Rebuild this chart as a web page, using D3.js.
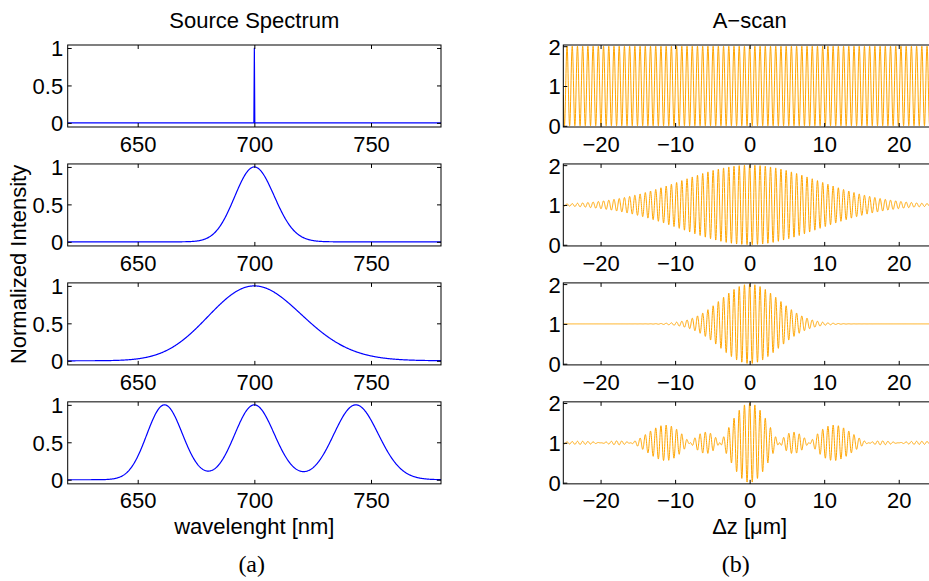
<!DOCTYPE html>
<html>
<head>
<meta charset="utf-8">
<script src="https://cdn.jsdelivr.net/npm/d3@7"></script>
<style>
  body { margin: 0; background: #fff; }
  svg text { font-family: "Liberation Sans", Arial, sans-serif; fill: #000; }
  svg text.cap { font-family: "Liberation Serif", "DejaVu Serif", serif; }
</style>
</head>
<body>
<svg id="fig" width="929" height="581"></svg>
<script>
// Tick values
const wavelengthTicks = [650, 700, 750];
const intensityTicks = [0, 0.5, 1];
const depthTicks = [-20, -10, 0, 10, 20];
const ascanTicks = [0, 1, 2];

// Source spectra, one row per panel: peak centres (nm), full widths at half maximum (nm)
// and relative peak heights. A width of 0 is a monochromatic line.
const peakCenters = [[700], [700], [700], [661.5, 700, 743.5]];
const peakFWHM    = [[0], [20], [47], [18, 20, 22.5]];
const peakHeights = [[1], [1], [1], [1, 1, 1]];

const wavelengthRange = [620, 780];   // nm
const depthRange = [-25, 25];         // µm
const spectrumStep = 0.2;             // nm
const depthStep = 0.02;               // µm

// ---- spectra sampled on a wavelength grid (Gaussians in wavenumber) ----
function sampleSpectrum(centers, widths, heights) {
  const n = Math.round((wavelengthRange[1] - wavelengthRange[0]) / spectrumStep);
  const pts = [];
  for (let i = 0; i <= n; i++) {
    const lam = wavelengthRange[0] + i * spectrumStep;
    const k = 2 * Math.PI / lam;
    let s = 0;
    centers.forEach((c, j) => {
      if (widths[j] === 0) {
        if (Math.abs(lam - c) < 1e-6) s += heights[j];
      } else {
        const kc = 2 * Math.PI / c;
        const sk = 2 * Math.PI * (widths[j] / 2.35482) / (c * c);
        s += heights[j] * Math.exp(-((k - kc) ** 2) / (2 * sk * sk));
      }
    });
    pts.push([lam, s]);
  }
  const m = d3.max(pts, d => d[1]);
  pts.forEach(d => { d[1] /= m; });
  return pts;
}

// ---- interferogram: 1 + normalised cosine transform of the spectrum ----
function aScan(spec) {
  const terms = spec.filter(d => d[1] > 1e-7).map(d => ({
    k: 2 * Math.PI / (d[0] / 1000),          // µm^-1
    w: d[1] / (d[0] * d[0])                  // spectral density per unit wavenumber
  }));
  const wsum = d3.sum(terms, t => t.w);
  const n = Math.round((depthRange[1] - depthRange[0]) / depthStep);
  const pts = [];
  for (let i = 0; i <= n; i++) {
    const z = depthRange[0] + i * depthStep;
    let acc = 0;
    for (const t of terms) acc += t.w * Math.cos(t.k * z);
    pts.push([z, 1 + acc / wsum]);
  }
  return pts;
}

const spectra = peakCenters.map((c, i) => sampleSpectrum(c, peakFWHM[i], peakHeights[i]));
const scans = spectra.map(aScan);

// ---- layout ----
const svg = d3.select("#fig");
const fontSize = 22;
const cols = [
  { x0: 67.7, x1: 441, xDomain: wavelengthRange, xTicks: wavelengthTicks,
    yDomain: [-0.055, 1.04], yTicks: intensityTicks, labelGap: 4.5, color: "#0000ff", width: 1.2 },
  { x0: 563.3, x1: 936, xDomain: depthRange, xTicks: depthTicks,
    yDomain: [-0.03, 2.03], yTicks: ascanTicks, labelGap: 2.5, color: "#ffa500", width: 1 }
];
const rowTop = i => 45 + i * 118.95;
const rowH = 82;
const fmt = d3.format("~g");

function panel(col, row, data, id) {
  const top = rowTop(row), bottom = top + rowH;
  const x = d3.scaleLinear().domain(col.xDomain).range([col.x0, col.x1]);
  const y = d3.scaleLinear().domain(col.yDomain).range([bottom, top]);
  const g = svg.append("g");

  g.append("clipPath").attr("id", id)
    .append("rect").attr("x", col.x0).attr("y", top)
    .attr("width", col.x1 - col.x0).attr("height", rowH);

  g.append("path").datum(data)
    .attr("clip-path", `url(#${id})`)
    .attr("fill", "none").attr("stroke", col.color)
    .attr("stroke-width", col.width).attr("stroke-linejoin", "round")
    .attr("d", d3.line().x(d => x(d[0])).y(d => y(d[1])));

  const style = a => a.attr("font-size", fontSize).attr("font-family", null)
    .call(s => s.select(".domain").remove())
    .call(s => s.selectAll(".tick line").attr("stroke", "#000").attr("stroke-width", 1));

  g.append("g").attr("transform", `translate(0,${bottom})`)
    .call(d3.axisBottom(x).tickValues(col.xTicks).tickFormat(fmt)
      .tickSize(-4).tickSizeOuter(0).tickPadding(9))
    .call(style);
  g.append("g").attr("transform", `translate(0,${top})`)
    .call(d3.axisTop(x).tickValues(col.xTicks).tickFormat("")
      .tickSize(-4).tickSizeOuter(0))
    .call(style);
  g.append("g").attr("transform", `translate(${col.x0},0)`)
    .call(d3.axisLeft(y).tickValues(col.yTicks).tickFormat(fmt)
      .tickSize(-4).tickSizeOuter(0).tickPadding(col.labelGap))
    .call(style)
    .call(s => s.selectAll(".tick text").attr("dy", "0.36em"));
  g.append("g").attr("transform", `translate(${col.x1},0)`)
    .call(d3.axisRight(y).tickValues(col.yTicks).tickFormat("")
      .tickSize(-4).tickSizeOuter(0))
    .call(style);

  g.append("rect").attr("x", col.x0).attr("y", top)
    .attr("width", col.x1 - col.x0).attr("height", rowH)
    .attr("fill", "none").attr("stroke", "#000").attr("stroke-width", 1);
}

spectra.forEach((s, i) => panel(cols[0], i, s, "clipS" + i));
scans.forEach((s, i) => panel(cols[1], i, s, "clipA" + i));

// ---- titles and labels ----
const midL = (cols[0].x0 + cols[0].x1) / 2;
const midR = (cols[1].x0 + cols[1].x1) / 2;
const text = (x, y, t, cls) => svg.append("text").attr("x", x).attr("y", y)
  .attr("text-anchor", "middle").attr("font-size", fontSize).attr("class", cls || null).text(t);

text(midL, 27.7, "Source Spectrum");
text(midR, 27.7, "A−scan");
text(midL, 534, "wavelenght [nm]");
text(midR, 534, "Δz [μm]");
svg.append("text").attr("transform", `translate(25.5,${(rowTop(0) + rowTop(3) + rowH) / 2}) rotate(-90)`)
  .attr("text-anchor", "middle").attr("font-size", fontSize).text("Normalized Intensity");
text(251.7, 572, "(a)", "cap").attr("font-size", 24);
text(735.7, 572, "(b)", "cap").attr("font-size", 24);
</script>
</body>
</html>
